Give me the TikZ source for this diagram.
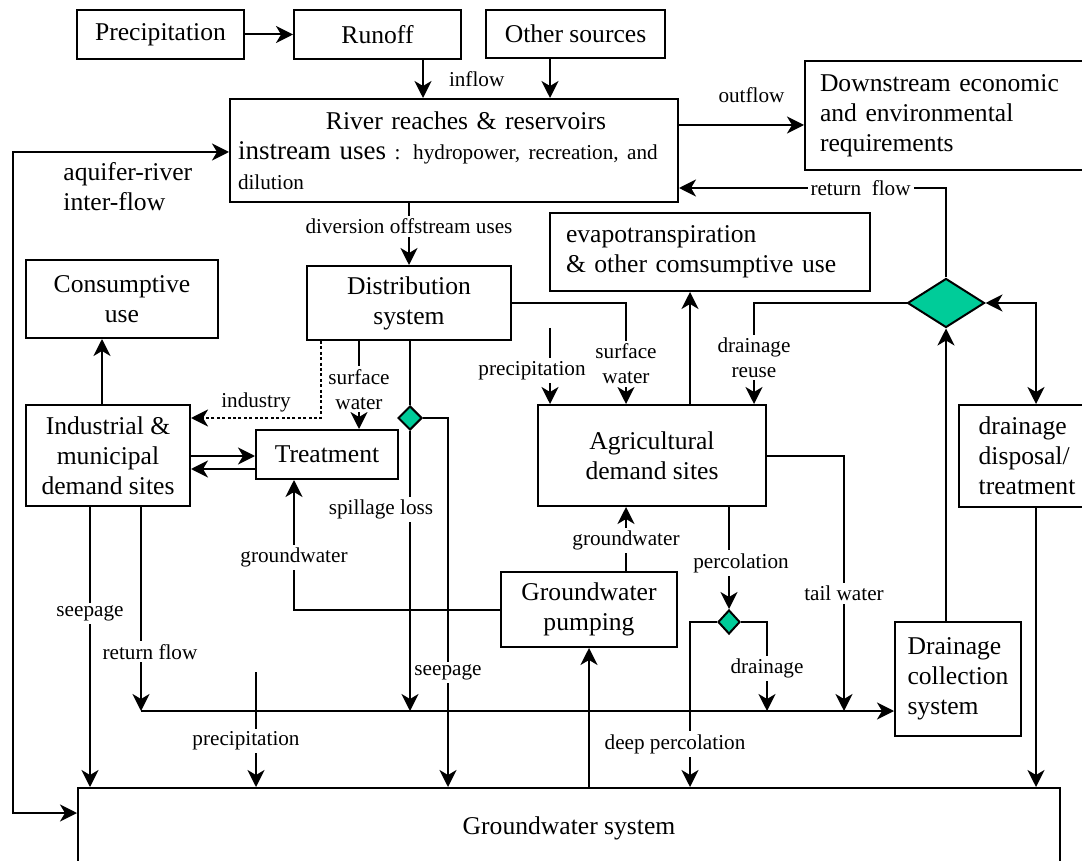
\documentclass[tikz,border=0pt]{standalone}
\usepackage{fontspec}
\setmainfont{Liberation Serif}
\usetikzlibrary{arrows.meta,shapes.geometric}
\definecolor{dgreen}{RGB}{0,204,153}

\begin{document}
\begin{tikzpicture}[x=0.5pt,y=-0.5pt,
	every node/.style={font=\fontsize{12.8}{15}\selectfont},
	box/.style={draw,line width=1pt,inner sep=0pt,align=center},
	dia/.style={draw,diamond,fill=dgreen,line width=1pt,inner sep=0pt},
	lbl/.style={font=\fontsize{10.6}{12.5}\selectfont,fill=white,inner sep=1.5pt,align=center},
	ln/.style={line width=1pt},
	arr/.style={line width=1pt,-{Stealth[length=8.5pt,width=8.5pt,inset=2.5pt]}},
	arrr/.style={line width=1pt,{Stealth[length=8.5pt,width=8.5pt,inset=2.5pt]}-{Stealth[length=8.5pt,width=8.5pt,inset=2.5pt]}}]
\useasboundingbox (0,0) rectangle (1082,861);

% boxes
\node[box,minimum width=83.5pt,minimum height=24.5pt] (prec) at (160.5,34.5) {Precipitation};
\node[box,minimum width=83.5pt,minimum height=24.5pt] (runoff) at (377.5,34.5) {Runoff};
\node[box,minimum width=89.5pt,minimum height=24pt] (other) at (575.5,34) {Other sources};
\node[box,minimum width=224pt,minimum height=51.5pt,text width=216pt,align=left] (river) at (454,150.5)
	{\makebox[216pt]{\hspace{12pt}River reaches \& reservoirs}\\{\fontsize{13.5}{15}\selectfont instream uses} {\fontsize{10.6}{12}\selectfont: hydropower, recreation, and}\\{\fontsize{10.6}{12}\selectfont dilution}};
\node[box,minimum width=145pt,minimum height=54.5pt,text width=130pt,align=left] (down) at (950,115.5)
	{Downstream economic\\and environmental\\requirements};
\node[box,minimum width=102pt,minimum height=37pt] (dist) at (409,303) {Distribution\\system};
\node[box,minimum width=96pt,minimum height=39pt] (cons) at (122,299) {Consumptive\\use};
\node[box,minimum width=160pt,minimum height=39pt,text width=144pt,align=left] (evap) at (710,252)
	{evapotranspiration\\\& other comsumptive use};
\node[box,minimum width=82pt,minimum height=50.5pt] (ind) at (108,455.5) {Industrial \&\\municipal\\demand sites};
\node[box,minimum width=71pt,minimum height=24.5pt] (treat) at (327,454.5) {Treatment};
\node[box,minimum width=114pt,minimum height=50.5pt] (agri) at (652,455.5) {Agricultural\\demand sites};
\node[box,minimum width=68pt,minimum height=51pt,align=left] (disp) at (1027,456) {drainage\\disposal/\\treatment};
\node[box,minimum width=88pt,minimum height=37.5pt] (pump) at (589,609.5) {Groundwater\\pumping};
\node[box,minimum width=63pt,minimum height=57pt,align=left] (coll) at (958,679) {Drainage\\collection\\system};
\node[box,minimum width=491pt,minimum height=40pt] (gw) at (569,828) {Groundwater system};

% junctions
\node[dia,minimum width=38.5pt,minimum height=24.5pt] (bigd) at (946,303) {};
\node[dia,minimum width=12pt,minimum height=12pt] (sdia) at (410,418) {};
\node[dia,minimum width=11pt,minimum height=12pt] (pdia) at (729,622) {};

\coordinate (cl) at (141,711);
\coordinate (pp) at (256,672);
\coordinate (ap) at (550,328);

% river
\draw[arr] (prec) -- (runoff);
\draw[arr] (runoff.south -| 423,0) -- node[lbl,fill=none,right=11pt]{inflow} (river.north -| 423,0);
\draw[arr] (other.south -| 550,0) -- (river.north -| 550,0);
\draw[arr] (river.east |- 0,125) -- node[lbl,fill=none,above=9pt,xshift=5pt]{outflow} (down.west |- 0,125);
\draw[arr] (bigd.north) |- node[lbl,pos=0.66]{return\ \ flow} (river.east |- 0,188);
\draw[arrr] (gw.west |- 0,813) -| (13,480) |- (river.west |- 0,152);
\node[anchor=west,align=left,inner sep=0pt] (aqlbl) at (63,187) {aquifer-river\\inter-flow};
\draw[arr] (dist.north |- river.south) -- node[lbl,pos=0.38]{diversion offstream uses} (dist.north);

% industrial side
\draw[arr] (ind.north -| 102,0) -- (cons.south -| 102,0);
\draw[line width=1.3pt,dash pattern=on 1.5pt off 1.2pt,-{Stealth[length=8.5pt,width=8.5pt,inset=2.5pt]}] (dist.south -| 321,0) |- node[lbl,fill=none,above=1pt,pos=0.75]{industry} (ind.east |- 0,418);
\draw[arr] (dist.south -| 359,0) -- node[lbl,pos=0.55]{surface\\water} (treat.north -| 359,0);
\draw[ln] (dist.south -| sdia) -- (sdia.north);
\draw[arr] (sdia.south) -- node[lbl,pos=0.28,xshift=-14.5pt]{spillage loss} (cl -| sdia);
\draw[arr] (sdia.east) -| node[lbl,pos=0.845]{seepage} (gw.north -| 448,0);
\draw[arr] (ind.east |- 0,456) -- (treat.west |- 0,456);
\draw[arr] (treat.west |- 0,469) -- (ind.east |- 0,469);
\draw[arr] (pump.west) -| node[lbl,pos=0.7]{groundwater} (treat.south -| 294,0);
\draw[arr] (ind.south -| 90,0) -- node[lbl,pos=0.38]{seepage} (gw.north -| 90,0);
\draw[arr] (ind.south -| cl) -- node[lbl,pos=0.71,xshift=4.5pt]{return flow} (cl);
\draw[arr] (cl) -- (coll.west |- cl);
\draw[arr] (pp) -- node[lbl,pos=0.6,xshift=-5pt]{precipitation} (gw.north -| pp);

% agricultural side
\draw[arr] (pump.north -| 626,0) -- node[lbl,pos=0.48]{groundwater} (agri.south -| 626,0);
\draw[arr] (gw.north -| pump.south) -- (pump.south);
\draw[arr] (ap) -- node[lbl,pos=0.56,xshift=-9pt]{precipitation} (agri.north -| ap);
\draw[arr] (dist.east) -| node[lbl,pos=0.8]{surface\\water} (agri.north -| 626,0);
\draw[arr] (agri.north -| 690,0) -- (evap.south -| 690,0);
\draw[arr] (bigd.west) -| node[lbl,pos=0.77]{drainage\\reuse} (agri.north -| 754,0);
\draw[arrr] (bigd.east) -| (disp.north -| 1036,0);
\draw[arr] (coll.north -| bigd.south) -- (bigd.south);
\draw[arr] (disp.south -| 1036,0) -- (gw.north -| 1036,0);
\draw[arr] (agri.east) -| node[lbl,pos=0.77]{tail water} (cl -| 844,0);
\draw[arr] (agri.south -| pdia) -- node[lbl,pos=0.55,xshift=6pt]{percolation} (pdia.north);
\draw[arr] (pdia.west) -| node[lbl,pos=0.87,xshift=-7.5pt]{deep percolation} (gw.north -| 690,0);
\draw[arr] (pdia.east) -| node[lbl,pos=0.76]{drainage} (cl -| 767,0);
\end{tikzpicture}
\end{document}
